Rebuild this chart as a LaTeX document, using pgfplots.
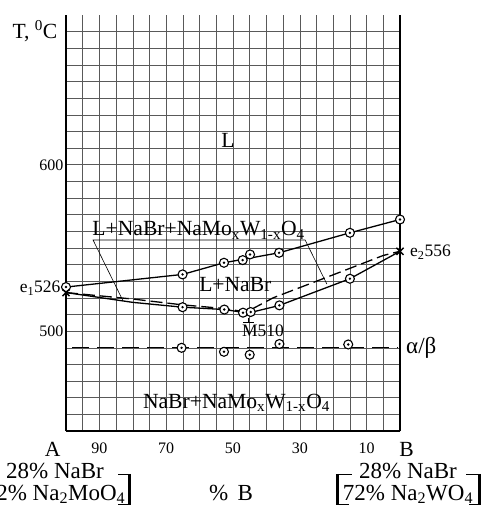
\documentclass[border=0pt]{standalone}
\usepackage{pgfplots}
\pgfplotsset{compat=1.18}
\usepackage{fontspec}
\setmainfont{Liberation Serif}
\newcommand\LF{\fontsize{21.6}{25}\selectfont}
\newcommand\MF{\fontsize{17.5}{20}\selectfont}
\newcommand\XF{\fontsize{23}{27}\selectfont}
\pgfdeclareplotmark{odot}{%
  \pgfpathcircle{\pgfpointorigin}{\pgfplotmarksize}%
  \pgfsetfillcolor{white}%
  \pgfusepathqfillstroke
  \pgfpathcircle{\pgfpointorigin}{0.3\pgfplotmarksize}%
  \pgfsetfillcolor{black}%
  \pgfusepathqfill
}
\begin{document}
\begin{tikzpicture}[x=1pt,y=1pt]
\path[use as bounding box] (-66,-85) rectangle (416,431);
\clip (-66,-85) rectangle (416,431);
\begin{axis}[
  at={(0,0)}, anchor=south west,
  scale only axis, width=334pt, height=416pt,
  xmin=0, xmax=100, ymin=440, ymax=690, x dir=reverse,
  axis x line*=bottom, axis y line*=left,
  axis line style={line width=1.6pt},
  xtick={90,70,50,30,10}, ytick={500,600},
  minor xtick={0,5,...,100}, minor ytick={440,450,...,680},
  grid=both,
  major grid style={black!65, line width=0.55pt},
  minor grid style={black!65, line width=0.55pt},
  major tick length=0pt, minor tick length=0pt,
  tick label style={font=\fontsize{16}{18}\selectfont},
  /pgf/number format/assume math mode=true,
  xticklabel style={yshift=-8pt},
  yticklabel style={xshift=1pt},
  clip=false,
]
% right border
\draw[line width=1.2pt] (axis cs:0,440) -- (axis cs:0,690);
% upper liquidus
\addplot[black, line width=1.3pt] coordinates {
 (100,526.5) (65.1,534.1) (52.7,541.1) (36.2,547.1) (15,559.1) (0,567.1)};
\addplot[only marks, mark=odot, mark size=4.5pt, mark options={line width=1.1pt}] coordinates {
 (100,526.5) (65.1,534.1) (52.7,541.1) (47.1,542.7) (44.9,546.1) (36.2,547.1) (15,559.1) (0,567.1)};
% lower solid curve
\addplot[black, line width=1.3pt] coordinates {
 (100,523.2) (80,517.3) (65.1,514.4) (52.6,513.0) (46,511.0) (44.6,511.3) (36.2,515.4) (15,531.5) (0,548)};
% dashed three-phase boundary
\addplot[black, line width=1.3pt, dash pattern=on 12pt off 5pt] coordinates {
 (100,523.2) (80,519.3) (65.1,515.8) (52.6,513.6) (46,511.5) (37.9,520.1) (21,533.1) (5,545.5) (0,548)};
\addplot[only marks, mark=odot, mark size=4.5pt, mark options={line width=1.1pt}] coordinates {
 (65.1,514.4) (52.6,513.0) (47.0,511.1) (44.7,511.5) (36.1,515.5) (15,531.5)};
% alpha/beta transition
\addplot[black, line width=1.3pt, dash pattern=on 17pt off 8pt] coordinates {(98.2,490) (0.6,490)};
\addplot[only marks, mark=odot, mark size=4.5pt, mark options={line width=1.1pt}] coordinates {
 (65.4,490) (52.7,487.6) (45,485.8) (36.1,492.3) (15.5,492)};
% eutectics
\addplot[only marks, mark=x, mark size=5pt, mark options={line width=1.4pt}] coordinates {(100,523.2) (0,548)};
% leader lines
\draw[line width=0.6pt] (axis cs:82.9,518.1) -- (axis cs:91.9,554.8) -- (axis cs:28.4,554.8) -- (axis cs:21.9,528.3);
% M marker
\draw[line width=0.8pt] (axis cs:45.4,508.2) -- (axis cs:45.4,505.5);
\draw[line width=0.8pt] (axis cs:47.0,505.5) -- (axis cs:43.7,505.5);
% labels
\node[font=\LF] at (axis cs:109.3,680.4) {T, \textsuperscript{0}C};
\node[font=\LF] at (axis cs:51.5,614.9) {L};
\node[font=\LF, anchor=base] at (axis cs:60.3,557.2) {L+NaBr+NaMo\textsubscript{x}W\textsubscript{1-x}O\textsubscript{4}};
\node[font=\LF, anchor=base] at (axis cs:49.3,523.7) {L+NaBr};
\node[font=\MF, anchor=base] at (axis cs:41.0,496.5) {M510};
\node[font=\LF, anchor=base] at (axis cs:48.95,453.6) {NaBr+NaMo\textsubscript{x}W\textsubscript{1-x}O\textsubscript{4}};
\node[font=\fontsize{23}{27}\selectfont, anchor=west, inner sep=0pt] at (axis cs:-1.8,489.9) {α/β};
\node[font=\MF, anchor=base west, inner sep=0pt] at (axis cs:-3.0,544.8) {e\textsubscript{2}556};
\node[font=\MF, anchor=base east, inner sep=0pt] at (axis cs:101.6,523.2) {e\textsubscript{1}526};
\node[font=\LF, anchor=base] at (axis cs:104.0,424.6) {A};
\node[font=\LF, anchor=base] at (axis cs:-1.95,424.6) {B};
\node[font=\XF, anchor=base] at (axis cs:103.3,411.6) {28\% NaBr};
\node[font=\XF, anchor=base] at (axis cs:103.3,398.5) {72\% Na\textsubscript{2}MoO\textsubscript{4}};
\node[font=\XF, anchor=base] at (axis cs:50.6,398.5) {\%\hspace{0.15em} B};
\node[font=\XF, anchor=base] at (axis cs:-2.4,411.6) {28\% NaBr};
\node[font=\XF, anchor=base] at (axis cs:-2.4,398.5) {72\% Na\textsubscript{2}WO\textsubscript{4}};
% brackets
\draw[line width=3.5pt] (axis cs:81.0,414.2) -- (axis cs:81.0,395.5);
\draw[line width=1.2pt] (axis cs:84.4,413.8) -- (axis cs:80.5,413.8);
\draw[line width=1.2pt] (axis cs:84.4,395.9) -- (axis cs:80.5,395.9);
\draw[line width=3.5pt] (axis cs:18.7,414.2) -- (axis cs:18.7,395.5);
\draw[line width=1.2pt] (axis cs:19.2,413.8) -- (axis cs:14.4,413.8);
\draw[line width=1.2pt] (axis cs:19.2,395.9) -- (axis cs:15.4,395.9);
\draw[line width=3.5pt] (axis cs:-23.8,414.2) -- (axis cs:-23.8,395.5);
\draw[line width=1.2pt] (axis cs:-19.8,413.8) -- (axis cs:-24.3,413.8);
\draw[line width=1.2pt] (axis cs:-20.8,395.9) -- (axis cs:-24.3,395.9);
\end{axis}
\end{tikzpicture}
\end{document}
